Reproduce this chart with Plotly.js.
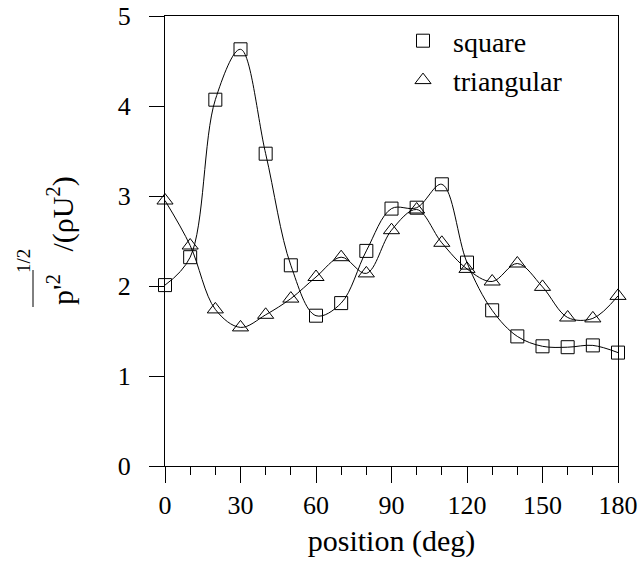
<!DOCTYPE html>
<html>
<head>
<meta charset="utf-8">
<script src="https://cdn.plot.ly/plotly-3.0.1.min.js"></script>
<style>html,body{margin:0;padding:0;background:#fff;}</style>
</head>
<body>
<div id="chart" style="width:639px;height:565px;"></div>
<script>
var positions = [0,10,20,30,40,50,60,70,80,90,100,110,120,130,140,150,160,170,180];
var square = [2.01,2.32,4.07,4.63,3.47,2.23,1.67,1.81,2.39,2.86,2.87,3.13,2.26,1.73,1.44,1.33,1.32,1.34,1.26];
var triangular = [2.95,2.45,1.74,1.54,1.68,1.86,2.10,2.32,2.14,2.62,2.85,2.48,2.19,2.05,2.25,1.99,1.65,1.64,1.89];
var xTicks = [0,30,60,90,120,150,180];
var yTicks = [0,1,2,3,4,5];

var fontName = 'Liberation Serif';
var traces = [
  {x: positions, y: square, mode: 'lines', line: {shape: 'spline', smoothing: 1, color: '#000', width: 1}, showlegend: false, hoverinfo: 'skip', cliponaxis: false},
  {x: positions, y: triangular, mode: 'lines', line: {shape: 'spline', smoothing: 1, color: '#000', width: 1}, showlegend: false, hoverinfo: 'skip', cliponaxis: false},
  {x: positions, y: square, mode: 'markers', name: 'square', marker: {symbol: 'square-open', size: 13, color: '#000', line: {width: 1, color: '#000'}}, cliponaxis: false},
  {x: positions, y: triangular, mode: 'markers', name: 'triangular', marker: {symbol: 'triangle-up-open', size: 14, color: '#000', line: {width: 1, color: '#000'}}, cliponaxis: false}
];

var layout = {
  width: 639, height: 565,
  margin: {l: 165, r: 21, t: 16, b: 99},
  xaxis: {
    range: [0, 180], tickvals: xTicks, ticktext: xTicks.map(String),
    ticks: 'outside', ticklen: 16, tickwidth: 1, tickcolor: '#000',
    minor: {dtick: 10, tick0: 0, ticks: 'outside', ticklen: 8, tickwidth: 1, tickcolor: '#000', showgrid: false},
    showline: true, linecolor: '#000', linewidth: 1, mirror: true,
    showgrid: false, zeroline: false,
    tickfont: {family: fontName, size: 26, color: '#000'},
    title: {text: 'position (deg)', font: {family: fontName, size: 30, color: '#000'}, standoff: 10}
  },
  yaxis: {
    range: [0, 5], tickvals: yTicks, ticktext: yTicks.map(function (v) { return v + '\u2002'; }),
    ticks: 'outside', ticklen: 15, tickwidth: 1, tickcolor: '#000',
    showline: true, linecolor: '#000', linewidth: 1, mirror: true,
    showgrid: false, zeroline: false,
    tickfont: {family: fontName, size: 26, color: '#000'}
  },
  legend: {
    x: (393 - 165) / 453, y: 1, xanchor: 'left', yanchor: 'top',
    font: {family: fontName, size: 28, color: '#000'},
    bgcolor: 'rgba(0,0,0,0)', itemwidth: 50, tracegroupgap: 0
  },
  annotations: [
    {text: "p'<sup>2</sup>\u00a0\u00a0\u00a0/(\u03c1U<sup>2</sup>)", xref: 'paper', yref: 'paper',
     x: (60 - 165) / 453, y: (466 - 241) / 450, xanchor: 'center', yanchor: 'middle',
     textangle: -90, showarrow: false, font: {family: fontName, size: 30, color: '#000'}},
    {text: '1/2', xref: 'paper', yref: 'paper',
     x: (23 - 165) / 453, y: (466 - 261) / 450, xanchor: 'center', yanchor: 'middle',
     textangle: -90, showarrow: false, font: {family: fontName, size: 19, color: '#000'}}
  ],
  shapes: [
    {type: 'line', xref: 'paper', yref: 'paper',
     x0: (33 - 165) / 453, x1: (33 - 165) / 453, y0: (466 - 307) / 450, y1: (466 - 270) / 450,
     line: {color: '#000', width: 1}}
  ]
};

Plotly.newPlot('chart', traces, layout, {staticPlot: true});
</script>
</body>
</html>
